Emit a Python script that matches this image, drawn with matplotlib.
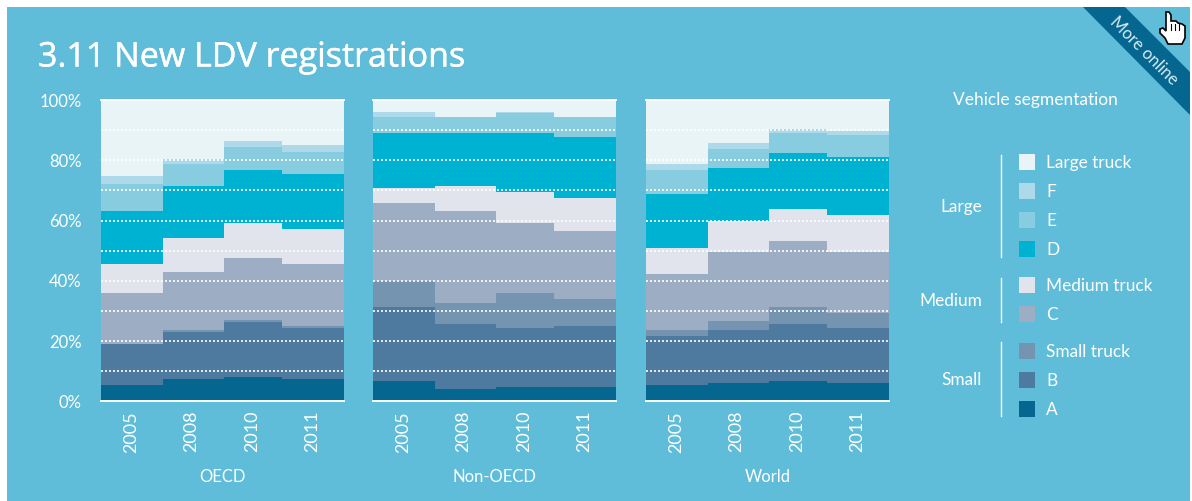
import matplotlib
matplotlib.use("Agg")
import matplotlib.pyplot as plt
from matplotlib.patches import Polygon, Rectangle
import matplotlib.patheffects as pe

plt.rcParams['font.family'] = ['Lato', 'DejaVu Sans']

years = ['2005', '2008', '2010', '2011']
# column edges differ a little, the 2010 column is narrower in the original
edges = [0, 62, 123, 181, 243]
year_ticks = [30, 90, 151, 211]
segments = ['A', 'B', 'Small truck', 'C', 'Medium truck', 'D', 'E', 'F', 'Large truck']
colors = ['#05668f', '#4f7a9f', '#7494b0', '#9daec4', '#e1e4ec',
          '#00b2d2', '#88cce0', '#aed9ea', '#e9f4f6']

# cumulative tops of each segment, in percent
oecd_tops = [
    [5.4, 7.4, 8.1, 7.4],
    [19.0, 23.0, 26.3, 24.3],
    [19.0, 23.7, 27.0, 25.0],
    [36.0, 42.9, 47.6, 45.6],
    [45.6, 54.2, 59.2, 57.2],
    [63.2, 71.5, 76.8, 75.4],
    [72.1, 78.8, 84.4, 82.7],
    [74.8, 80.6, 86.4, 85.1],
    [100, 100, 100, 100],
]
non_oecd_tops = [
    [6.7, 4.1, 4.8, 4.8],
    [31.3, 25.7, 24.3, 25.0],
    [39.9, 32.6, 36.0, 34.0],
    [65.8, 63.2, 59.2, 56.5],
    [70.8, 71.5, 69.5, 67.5],
    [89.0, 89.0, 89.0, 87.7],
    [94.4, 94.4, 95.7, 94.4],
    [96.0, 94.4, 96.0, 94.4],
    [100, 100, 100, 100],
]
world_tops = [
    [5.4, 6.1, 6.7, 6.1],
    [21.7, 23.7, 25.7, 24.3],
    [23.7, 26.7, 31.3, 29.3],
    [42.3, 49.6, 53.2, 49.6],
    [50.9, 59.8, 63.8, 61.8],
    [68.8, 77.4, 82.4, 81.1],
    [76.8, 83.7, 89.0, 88.4],
    [78.8, 85.7, 90.4, 89.7],
    [100, 100, 100, 100],
]
panels = ['OECD', 'Non-OECD', 'World']
panel_tops = [oecd_tops, non_oecd_tops, world_tops]
panel_left = [101, 373, 646]

W, H = 1192, 501
bg = '#5fbdd9'
dark = '#05668f'

fig = plt.figure(figsize=(W / 100, H / 100), dpi=100, facecolor='white')

# overlay in pixel coordinates for the card, title, legend and ribbon
page = fig.add_axes([0, 0, 1, 1], zorder=0)
page.set_xlim(0, W)
page.set_ylim(H, 0)
page.axis('off')
page.add_patch(Rectangle((7, 7), W - 9, H - 7, color=bg, lw=0))

page.text(38, 57.5, '3.11 New LDV registrations', color='white', fontsize=24.5,
          family=['Open Sans', 'DejaVu Sans'], va='center', ha='left',
          path_effects=[pe.withStroke(linewidth=0.3, foreground='white')])

for name, tops, left in zip(panels, panel_tops, panel_left):
    ax = fig.add_axes([left / W, 1 - 401.2 / H, 243 / W, 301 / H], zorder=1)
    bottom = [0, 0, 0, 0]
    for seg, top, col in zip(segments, tops, colors):
        for i in range(4):
            ax.bar(edges[i], top[i] - bottom[i], width=edges[i + 1] - edges[i] + 0.3,
                   bottom=bottom[i], align='edge', color=col, lw=0)
        bottom = top
    for g in range(10, 100, 10):
        ax.axhline(g, color='white', lw=1.2, ls=(0, (1.2, 1.2)), zorder=3)
    ax.set_xlim(0, 243)
    ax.set_ylim(0, 100)
    for s in ax.spines.values():
        s.set_visible(False)
    ax.axhline(0, color='white', lw=1.4, zorder=4, clip_on=False)
    ax.axhline(100, color='white', lw=1.4, zorder=4, clip_on=False)
    ax.patch.set_alpha(0)
    ax.set_xticks(year_ticks)
    ax.set_xticklabels(years, rotation=90, color='white', fontsize=13)
    ax.tick_params(axis='x', length=0, pad=7)
    ax.set_xlabel(name, color='white', fontsize=12, labelpad=12)
    if left == panel_left[0]:
        ax.set_yticks(range(0, 101, 20))
        ax.set_yticklabels([f'{v}%' for v in range(0, 101, 20)], color='white', fontsize=12)
        ax.tick_params(axis='y', length=0, pad=14)
    else:
        ax.set_yticks([])

# legend
page.text(1035, 99.5, 'Vehicle segmentation', color='white', fontsize=12.5, ha='center', va='center')
legend_names = ['Large truck', 'F', 'E', 'D', 'Medium truck', 'C', 'Small truck', 'B', 'A']
legend_y = [162, 191, 220, 249, 285, 314, 351, 380, 409]
for label, y in zip(legend_names, legend_y):
    col = colors[segments.index(label)]
    page.add_patch(Rectangle((1019, y - 8), 16, 16, color=col, lw=0))
    page.text(1046, y + 1, label, color='white', fontsize=12.4, ha='left', va='center')
for label, y0, y1 in [('Large', 155, 257), ('Medium', 278, 322), ('Small', 342, 416)]:
    page.plot([1001, 1001], [y0, y1], color='white', lw=1)
    page.text(982, (y0 + y1) / 2 + 1, label, color='white', fontsize=12.4, ha='right', va='center')

# "More online" ribbon
page.add_patch(Polygon([(1083, 7), (1125, 7), (1190, 72), (1190, 115)], color=dark, lw=0))
page.text(1144, 51, 'More online', color='#d5ecf3', fontsize=12, rotation=-45,
          rotation_mode='anchor', ha='center', va='center')

# hand cursor
hand = [(1166, 12), (1169, 12), (1171, 15), (1171, 21), (1176, 21), (1178, 23), (1182, 24),
        (1185, 26), (1185, 38), (1182, 44), (1168, 44), (1165, 38), (1160, 33), (1160, 29),
        (1163, 28), (1166, 31)]
page.add_patch(Polygon(hand, facecolor='white', edgecolor='black', lw=1.2, zorder=5))
for x in (1171, 1175, 1179):
    page.plot([x, x], [24, 30], color='black', lw=0.8, zorder=6)

fig.savefig('out.png', dpi=100, facecolor='white')
